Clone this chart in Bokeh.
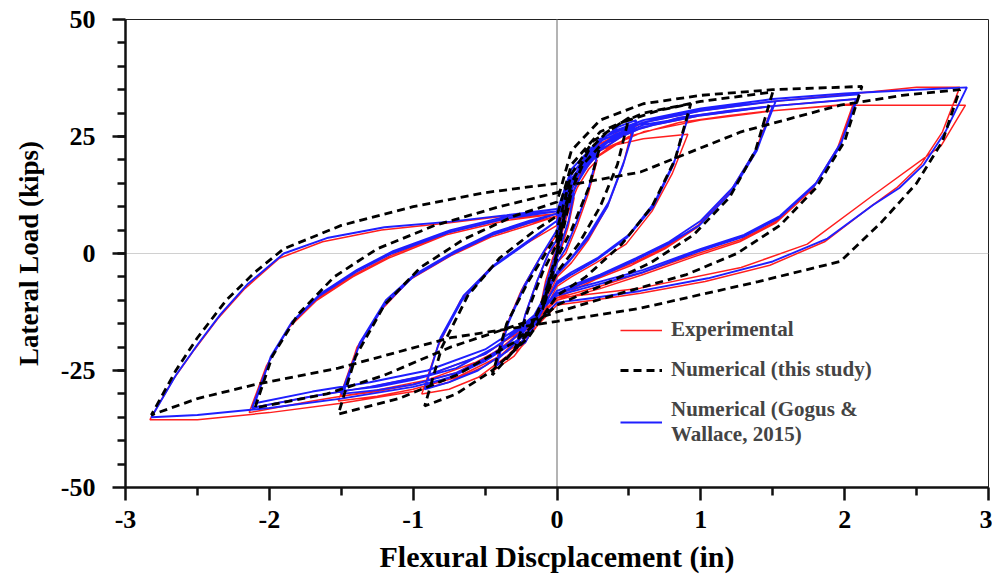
from bokeh.plotting import figure
from bokeh.models import Span, Legend, FixedTicker
from bokeh.embed import file_html
from bokeh.resources import INLINE

# ---- data: one (x, y) list pair per loading cycle ----
# Experimental (red)
exp_x = [
    [0, 0.04, 0.08, 0.12, 0.08, 0.03, 0, -0.04, -0.08, -0.12, -0.08, -0.03, 0],
    [0, 0.06, 0.14, 0.22, 0.28, 0.22, 0.14, 0.06, 0, -0.07, -0.15, -0.22, -0.28, -0.22, -0.14, -0.06, 0],
    [0, 0.08, 0.18, 0.3, 0.42, 0.53, 0.46, 0.35, 0.22, 0.1, 0, -0.1, -0.2, -0.3, -0.44, -0.36, -0.25, -0.12, 0],
    [0, 0.08, 0.2, 0.38, 0.6, 0.91, 0.8, 0.66, 0.48, 0.27, 0.1, 0, -0.15, -0.35, -0.55, -0.75, -0.94, -0.83, -0.67, -0.46, -0.22, 0],
    [0, 0.1, 0.25, 0.5, 0.85, 1.2, 1.5, 1.38, 1.2, 0.98, 0.76, 0.53, 0.28, 0, -0.15, -0.4, -0.7, -1.0, -1.25, -1.52, -1.4, -1.22, -1.02, -0.74, -0.46, -0.2, 0],
    [0, 0.1, 0.25, 0.5, 0.85, 1.2, 1.49, 1.37, 1.19, 0.97, 0.75, 0.52, 0.27, 0, -0.15, -0.4, -0.7, -1.0, -1.25, -1.5, -1.39, -1.21, -1.01, -0.73, -0.45, -0.19, 0],
    [0, 0.1, 0.3, 0.6, 1.0, 1.5, 2.08, 1.96, 1.78, 1.53, 1.28, 0.98, 0.6, 0.3, 0, -0.2, -0.5, -0.9, -1.3, -1.7, -2.14, -2.02, -1.87, -1.67, -1.42, -1.17, -0.77, -0.36, 0],
    [0, 0.1, 0.3, 0.6, 1.0, 1.5, 2.06, 1.95, 1.77, 1.52, 1.27, 0.97, 0.6, 0.3, 0, -0.2, -0.5, -0.9, -1.3, -1.7, -2.12, -2.01, -1.86, -1.66, -1.41, -1.16, -0.76, -0.35, 0],
    [0, 0.1, 0.3, 0.6, 1.0, 1.5, 2.0, 2.5, 2.8, 2.68, 2.53, 2.36, 2.18, 1.86, 1.48, 1.03, 0.58, 0.25, 0, -0.25, -0.5, -0.75, -1.0, -1.5, -2.0, -2.5, -2.83, -2.67, -2.52, -2.36, -2.17, -1.93, -1.63, -1.22, -0.76, -0.36, 0],
    [0, 0.1, 0.3, 0.6, 1.0, 1.5, 1.97, 2.84, 2.67, 2.2, 1.74, 1.28, 0.58, 0],
]
exp_y = [
    [0, 5, 9, 12, 6, 1, -1, -5, -9, -12, -6, -1, 1],
    [1, 8, 14, 18, 20, 13, 6, 0, -2, -9, -15, -19, -21, -13, -6, 0, 2],
    [2, 11, 18, 23, 26, 27.5, 19, 10, 3, -2, -5, -12, -18, -22, -25, -16, -8, -1, 4],
    [4, 13, 19, 23, 24.5, 25.5, 17, 9, 2, -2, -5, -7, -16, -22, -26.5, -29, -30, -20, -10, -3, 2, 6],
    [6, 15, 21, 26, 29, 30.5, 31.5, 22, 13, 6, 1.5, -2, -5, -9, -15, -22, -26.5, -29, -30.5, -31.5, -21, -12, -5.5, -0.5, 3.5, 6, 8],
    [7, 14, 20, 25, 28, 29.5, 30.5, 21, 12.5, 5.5, 1, -2.5, -5.5, -9.5, -14, -20.5, -25.5, -28, -29.5, -30.5, -20, -11.5, -5, 0, 4, 6.5, 8],
    [7, 16, 23, 27, 29.5, 31.5, 33, 23, 14, 7, 3, 0, -4, -7, -9.5, -16, -22.5, -27, -29.5, -31.5, -34, -24, -16, -10, -5, -1, 4, 7, 8.5],
    [7.5, 15, 22, 26, 28.5, 30.5, 32, 22.5, 13.5, 6.5, 2.5, -0.5, -4.5, -7.5, -10, -15.5, -21.5, -26, -28.5, -30.5, -33, -23.5, -15.5, -9.5, -4.5, -0.5, 4.5, 7.5, 8.5],
    [8, 17, 23.5, 28, 30.5, 32.5, 34, 35.5, 35.5, 26, 19, 14, 10, 2.5, -2.5, -6, -8.5, -10, -11, -19, -24, -27.5, -29.5, -32, -34, -35.5, -35.5, -27, -20.5, -14, -7.5, -1, 2.5, 5, 6.5, 8, 9],
    [9, 16, 22, 26, 28.5, 30.5, 31.7, 31.7, 23, 12.5, 2, -3, -7.4, -9.5],
]

# Numerical, this study (black dashed)
num_x = [
    [0, 0.05, 0.1, 0.05, 0, -0.05, -0.1, -0.05, 0],
    [0, 0.08, 0.18, 0.3, 0.22, 0.1, 0, -0.1, -0.2, -0.3, -0.2, -0.1, 0],
    [0, 0.1, 0.22, 0.35, 0.5, 0.42, 0.3, 0.15, 0, -0.12, -0.25, -0.45, -0.35, -0.2, 0],
    [0, 0.1, 0.25, 0.45, 0.7, 0.93, 0.82, 0.66, 0.45, 0.2, 0, -0.2, -0.45, -0.7, -0.92, -0.8, -0.62, -0.4, -0.15, 0],
    [0, 0.1, 0.3, 0.6, 1.0, 1.5, 1.38, 1.2, 0.95, 0.65, 0.3, 0, -0.3, -0.7, -1.1, -1.52, -1.4, -1.2, -0.95, -0.65, -0.3, 0],
    [0, 0.1, 0.3, 0.6, 1.0, 1.5, 2.12, 2.0, 1.8, 1.55, 1.25, 0.9, 0.5, 0, -0.3, -0.74, -1.2, -1.6, -2.1, -1.98, -1.8, -1.55, -1.25, -0.85, -0.4, 0],
    [0, 0.15, 0.58, 1.28, 1.97, 2.4, 2.8, 2.68, 2.5, 2.25, 1.97, 1.4, 0.58, 0, -0.74, -1.52, -2.1, -2.5, -2.82, -2.65, -2.5, -2.3, -2.1, -1.9, -1.5, -1.0, -0.5, 0],
]
num_y = [
    [0, 8, 13, 6, 0, -7, -12, -5, 0],
    [1, 12, 19, 23, 14, 5, -1, -10, -17, -21, -12, -4, 2],
    [3, 15, 22, 26, 29, 19, 10, 2, -4, -12, -19, -26, -15, -6, 4],
    [5, 17, 24, 28, 30.5, 32, 20, 10, 2, -5, -9, -18, -25, -30, -32.6, -20, -9, -1, 5, 8],
    [8, 19, 26, 30, 32.5, 34.5, 22, 12, 4, -2, -7, -11, -19, -26, -31, -34.3, -22, -11, -3, 3, 8, 11],
    [11, 22, 28.5, 32, 33.8, 35, 35.7, 24, 14, 6, 0, -4.5, -8, -12.5, -15.5, -20, -26, -30, -33, -22, -13, -5, 1, 6, 10, 13],
    [13, 15, 17.4, 26, 31.7, 33.8, 35, 24, 15, 6.5, -1.7, -6, -11.7, -14.5, -18, -24.5, -28, -31, -34.5, -25, -18, -10, -4, 1, 6, 10, 13, 15],
]

# Numerical, Gogus & Wallace 2015 (blue)
gw_x = [
    [0, 0.04, 0.08, 0.12, 0.08, 0.03, 0, -0.04, -0.08, -0.12, -0.08, -0.03, 0],
    [0, 0.06, 0.14, 0.22, 0.28, 0.22, 0.14, 0.06, 0, -0.07, -0.15, -0.22, -0.28, -0.22, -0.14, -0.06, 0],
    [0, 0.08, 0.18, 0.3, 0.42, 0.55, 0.47, 0.36, 0.22, 0.1, 0, -0.1, -0.2, -0.3, -0.42, -0.34, -0.24, -0.12, 0],
    [0, 0.08, 0.18, 0.3, 0.42, 0.54, 0.46, 0.35, 0.21, 0.09, 0, -0.1, -0.2, -0.3, -0.41, -0.33, -0.23, -0.11, 0],
    [0, 0.08, 0.2, 0.38, 0.6, 0.92, 0.82, 0.68, 0.5, 0.28, 0.1, 0, -0.15, -0.35, -0.55, -0.75, -0.92, -0.82, -0.66, -0.45, -0.22, 0],
    [0, 0.08, 0.2, 0.38, 0.6, 0.91, 0.81, 0.67, 0.49, 0.27, 0.1, 0, -0.15, -0.35, -0.55, -0.75, -0.91, -0.81, -0.65, -0.44, -0.21, 0],
    [0, 0.1, 0.25, 0.5, 0.85, 1.2, 1.52, 1.4, 1.22, 1.0, 0.78, 0.55, 0.3, 0, -0.15, -0.4, -0.7, -1.0, -1.25, -1.5, -1.38, -1.2, -1.0, -0.72, -0.45, -0.2, 0],
    [0, 0.1, 0.25, 0.5, 0.85, 1.2, 1.5, 1.39, 1.21, 0.99, 0.77, 0.54, 0.29, 0, -0.15, -0.4, -0.7, -1.0, -1.25, -1.48, -1.37, -1.19, -0.99, -0.71, -0.44, -0.19, 0],
    [0, 0.1, 0.3, 0.6, 1.0, 1.5, 2.1, 1.98, 1.8, 1.55, 1.3, 1.0, 0.6, 0.3, 0, -0.2, -0.5, -0.9, -1.3, -1.7, -2.12, -2.0, -1.85, -1.65, -1.4, -1.15, -0.75, -0.35, 0],
    [0, 0.1, 0.3, 0.6, 1.0, 1.5, 2.08, 1.97, 1.79, 1.54, 1.29, 0.99, 0.6, 0.3, 0, -0.2, -0.5, -0.9, -1.3, -1.7, -2.1, -1.99, -1.84, -1.64, -1.39, -1.14, -0.74, -0.34, 0],
    [0, 0.1, 0.3, 0.6, 1.0, 1.5, 2.0, 2.5, 2.85, 2.7, 2.55, 2.38, 2.2, 1.88, 1.5, 1.05, 0.58, 0.25, 0, -0.25, -0.5, -0.75, -1.0, -1.5, -2.0, -2.5, -2.82, -2.65, -2.5, -2.34, -2.15, -1.9, -1.6, -1.2, -0.74, -0.35, 0],
]
gw_y = [
    [0, 6, 10, 13, 7, 2, -1, -6, -10, -13, -7, -2, 1],
    [1, 9, 15, 19, 21, 14, 7, 1, -2, -9, -15, -19, -20, -13, -6, 0, 3],
    [3, 12, 19, 24, 27, 28.5, 20, 11, 4, -1, -4, -11, -17, -21, -24, -15, -8, -1, 5],
    [4, 11, 17.5, 22.5, 25.5, 27, 19, 10, 3, -1.5, -4.5, -10, -15.5, -19.5, -22.5, -14, -7, -0.5, 5],
    [5, 14, 21, 26, 28.5, 30, 20, 11, 4, -1, -4, -6, -15, -21, -25, -27.5, -29, -19, -10, -3, 2, 7],
    [6, 13, 19.5, 24.5, 27.5, 29, 19, 10, 3.5, -1.5, -4.5, -6.5, -14, -19.5, -23.5, -26.5, -28, -18, -9, -2.5, 2.5, 7],
    [7, 16, 22, 27, 30, 31.5, 32.5, 23, 14, 7, 2.5, -1, -4.5, -8, -14, -21, -25.5, -28, -29.2, -30, -20, -11, -5, 0, 4, 6.5, 8.5],
    [8, 15, 21, 26, 29, 30.5, 31.5, 22, 13, 6, 2, -1.5, -5, -8.5, -13, -19.5, -24.5, -27, -28.5, -29.3, -19, -10, -4.5, 0.5, 4.5, 7, 8.5],
    [8, 17, 24, 28, 30.5, 32.5, 34, 24, 15, 8, 4, 1, -3.5, -6, -8.5, -15, -21.5, -26, -28.5, -30.5, -33, -23, -15, -9, -4, 0, 4.5, 7.5, 9],
    [8.5, 16, 23, 27, 29.5, 31.5, 33, 23, 14.5, 7.5, 3.5, 0.5, -4, -6.5, -9, -14.5, -20.5, -25, -27.5, -29.5, -32, -22, -14.5, -8.5, -3.5, 0.5, 5, 8, 9],
    [9, 18, 24.5, 28.5, 31, 33, 34.2, 35, 35.5, 26, 19, 14, 10.4, 3.2, -1.7, -5.3, -8, -9.5, -10.5, -18, -23, -26.6, -28.5, -31, -33, -34.5, -35, -26, -19.5, -13, -6.5, 0, 3.3, 5.6, 6.8, 8.2, 9.5],
]

x_ticks = [-3, -2, -1, 0, 1, 2, 3]
y_ticks = [-50, -25, 0, 25, 50]


def joined(xs_list, ys_list):
    xs, ys = [], []
    for cx, cy in zip(xs_list, ys_list):
        xs += cx
        ys += cy
    return xs, ys


FONT = "Liberation Serif"

p = figure(width=992, height=577, x_range=(-3, 3), y_range=(-50, 50),
           output_backend="svg", toolbar_location=None,
           min_border_left=125, min_border_right=4, min_border_top=19,
           min_border_bottom=90)
p.xgrid.visible = False
p.ygrid.visible = False
p.outline_line_color = "#222222"
p.outline_line_width = 1

p.add_layout(Span(location=0, dimension="height", line_color="#b4b4b4",
                  line_width=2, level="underlay"))
p.add_layout(Span(location=0, dimension="width", line_color="#d0d0d0",
                  line_width=1, level="underlay"))

ex, ey = joined(exp_x, exp_y)
gx, gy = joined(gw_x, gw_y)
nx, ny = joined(num_x, num_y)

r_exp = p.line(ex, ey, line_color="#ff1f1f", line_width=1.5)
r_gw = p.line(gx, gy, line_color="#1f1fff", line_width=1.9)
r_num = p.line(nx, ny, line_color="black", line_width=2.8, line_dash="8 5")

p.xaxis.ticker = FixedTicker(ticks=x_ticks,
                             minor_ticks=[-2.5, -1.5, -0.5, 0.5, 1.5, 2.5])
p.yaxis.ticker = FixedTicker(ticks=y_ticks,
                             minor_ticks=list(range(-45, 50, 5)))
p.xaxis.major_label_overrides = {t: str(t) for t in x_ticks}
p.yaxis.major_label_overrides = {t: str(t) for t in y_ticks}

for ax in (p.xaxis, p.yaxis):
    ax.axis_line_width = 2.5
    ax.axis_line_color = "#111111"
    ax.major_tick_in = 0
    ax.major_tick_out = 13
    ax.minor_tick_in = 0
    ax.minor_tick_out = 8
    ax.major_tick_line_width = 2.5
    ax.minor_tick_line_width = 2.5
    ax.major_tick_line_color = "#111111"
    ax.minor_tick_line_color = "#111111"
    ax.major_label_text_font = FONT
    ax.major_label_text_font_style = "bold"
    ax.major_label_text_font_size = "26px"
    ax.major_label_text_color = "black"
    ax.axis_label_text_font = FONT
    ax.axis_label_text_font_style = "bold"
    ax.axis_label_text_color = "black"

p.xaxis.axis_label = "Flexural Discplacement (in)"
p.yaxis.axis_label = "Lateral Load (kips)"
p.xaxis.axis_label_text_font_size = "30px"
p.yaxis.axis_label_text_font_size = "27px"
p.xaxis.major_label_standoff = 10
p.xaxis.axis_label_standoff = 9
p.yaxis.major_label_standoff = 17
p.yaxis.axis_label_standoff = 14

legend = Legend(items=[("Experimental", [r_exp]),
                       ("Numerical (this study)", [r_num]),
                       ("Numerical (Gogus &\nWallace, 2015)", [r_gw])],
                location=(485, 30))
legend.label_text_font = FONT
legend.label_text_font_style = "bold"
legend.label_text_font_size = "21px"
legend.glyph_width = 42
legend.label_standoff = 9
legend.spacing = 15
legend.background_fill_alpha = 0
legend.border_line_alpha = 0
p.add_layout(legend)

open("out.html", "w").write(file_html(p, INLINE))
